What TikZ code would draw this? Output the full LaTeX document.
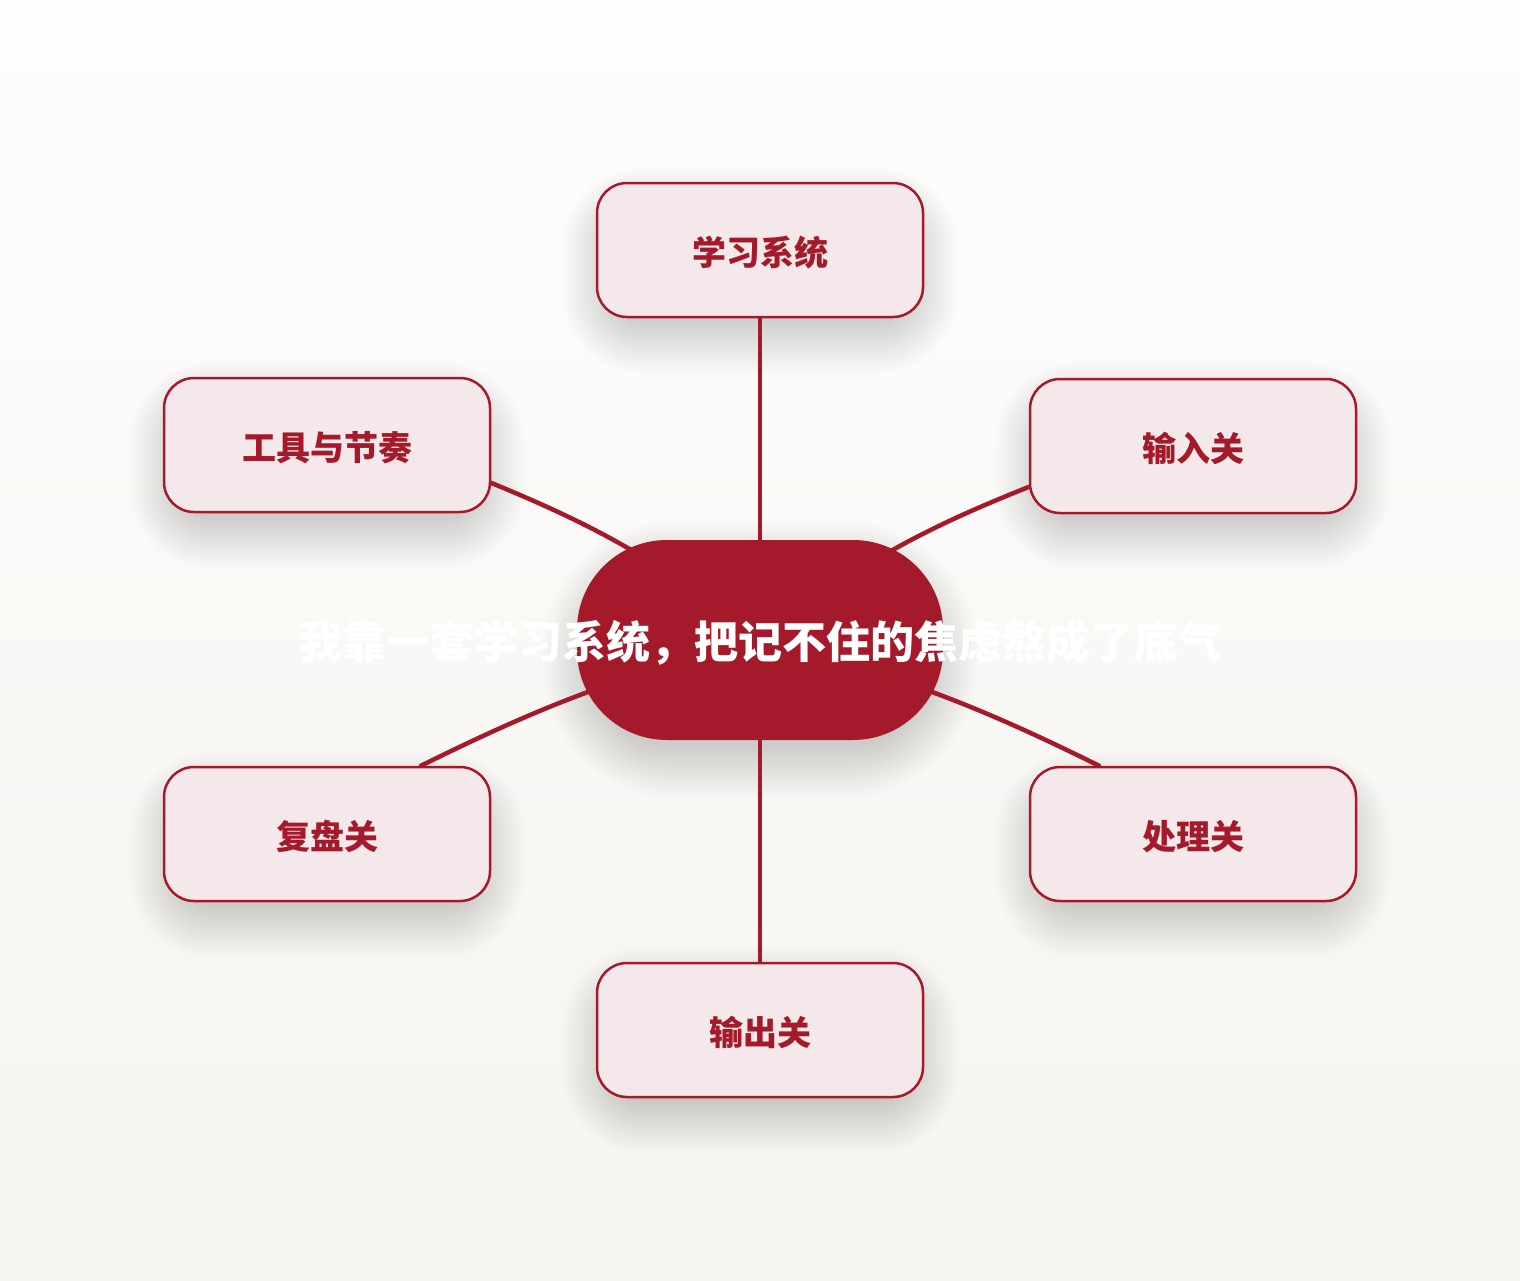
\documentclass[tikz,border=0pt]{standalone}
\usepackage{fontspec}
\newfontfamily\cjk{Noto Sans CJK SC}
\usetikzlibrary{calc,backgrounds}
\definecolor{dred}{HTML}{A51A2A}
\definecolor{boxfill}{HTML}{F4E8EB}
\definecolor{bgtop}{HTML}{FDFDFC}
\definecolor{bgbot}{HTML}{F6F4F0}
\tikzset{
  leaf/.style={draw=dred, line width=2.5pt, fill=boxfill, rounded corners=30pt,
    minimum width=326pt, minimum height=134pt, inner sep=0pt, text height=33pt, text depth=2pt,
    font=\cjk\bfseries\fontsize{34}{36}\selectfont, text=dred},
  hub/.style={fill=dred, rounded corners=90pt, minimum width=366pt, minimum height=200pt, inner sep=0pt},
  hubtext/.style={font=\cjk\bfseries\fontsize{44}{48}\selectfont, text=white, inner sep=0pt},
  conn/.style={draw=dred, line width=4.5pt, line cap=round},
  shadowlayer/.style={fill=black, opacity=0.009}
}
% soft shadow: node name, half width, half height, base radius
\newcommand\mysoftshadow[4]{%
  \foreach \k in {1,...,22}{%
    \fill[shadowlayer, rounded corners={#4pt+\k*2.4pt}]
      ($(#1.center)+({-#2-\k*2.4},{-#3-\k*2.4+20})$) rectangle
      ($(#1.center)+({#2+\k*2.4},{#3+\k*2.4+20})$);
  }%
}
\begin{document}
\begin{tikzpicture}[x=1pt,y=-1pt]
\useasboundingbox (0,0) rectangle (1520,1280);
\node[hub] (c) at (760,640) {};
\node[hubtext] (ct) at (760,643) {我靠一套学习系统，把记不住的焦虑熬成了底气};
\node[leaf] (t) at (760,250) {学习系统};
\node[leaf] (ul) at (327,445) {工具与节奏};
\node[leaf] (ur) at (1193,446) {输入关};
\node[leaf] (ll) at (327,834) {复盘关};
\node[leaf] (lr) at (1193,834) {处理关};
\node[leaf] (b) at (760,1030) {输出关};
\begin{scope}[on background layer]
\shade[top color=bgtop, bottom color=bgbot] (0,0) rectangle (1520,1280);
\mysoftshadow{t}{145}{50}{28}
\mysoftshadow{ul}{145}{50}{28}
\mysoftshadow{ur}{145}{50}{28}
\mysoftshadow{ll}{145}{50}{28}
\mysoftshadow{lr}{145}{50}{28}
\mysoftshadow{b}{145}{50}{28}
\mysoftshadow{c}{165}{85}{78}
\draw[conn] (t.south) -- (c.center);
\draw[conn] (b.north) -- (c.center);
\draw[conn] (ul.-13) to[bend left=8] (c.center);
\draw[conn] (ur.-166) to[bend right=8] (c.center);
\draw[conn] (ll.36) to[bend left=6] (c.center);
\draw[conn] (lr.144) to[bend right=6] (c.center);
\end{scope}
\end{tikzpicture}
\end{document}
